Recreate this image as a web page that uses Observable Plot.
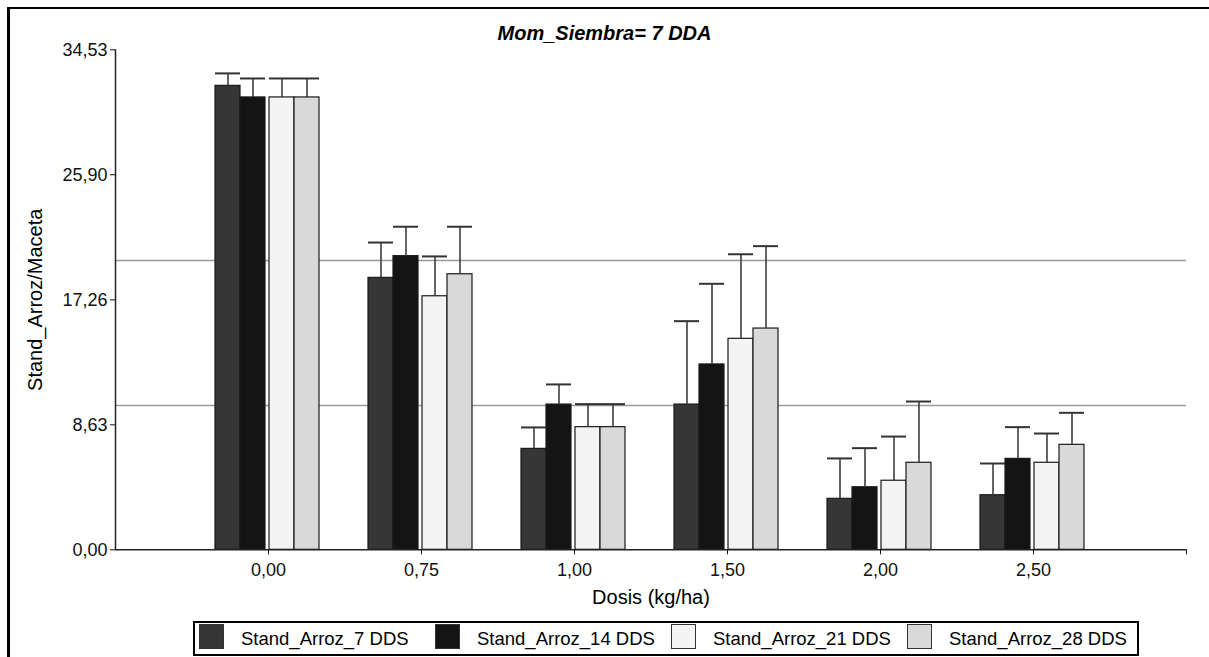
<!DOCTYPE html>
<html>
<head>
<meta charset="utf-8">
<script src="https://cdn.jsdelivr.net/npm/d3@7"></script>
<script src="https://cdn.jsdelivr.net/npm/@observablehq/plot@0.6"></script>
<style>
  html, body { margin: 0; padding: 0; overflow: hidden; background: #fff; font-family: "Liberation Sans", Arial, sans-serif; }
  #chart { position: relative; width: 1209px; height: 657px; background: #fff; }
  .edge { position: absolute; background: #000; z-index: 5; }
  #edgeLeft { left: 6.5px; top: 6.5px; width: 3px; height: 650px; }
  #edgeTop { left: 6.5px; top: 6.5px; width: 1202px; height: 2.5px; }
  #title { position: absolute; left: 0; top: 23px; width: 1209px; text-align: center; z-index: 2;
           font-size: 20px; line-height: 20px; font-weight: bold; font-style: italic; color: #000; }
  #plot { position: absolute; left: 0; top: 30px; }
  #legend { position: absolute; left: 193px; top: 621px; width: 942px; height: 31px;
            border: 2px solid #000; background: #fff; }
  .item { position: absolute; top: 0; height: 31px; }
  .sw { position: absolute; left: 0; top: 1px; width: 25px; height: 25px;
        box-sizing: border-box; border: 1px solid #333; }
  .lab { position: absolute; left: 42px; top: 7px; font-size: 18.5px; line-height: 18px;
         white-space: nowrap; color: #000; }
</style>
</head>
<body>
<div id="chart">
  <div id="plot"></div>
  <div id="title">Mom_Siembra= 7 DDA</div>
  <div id="legend"></div>
  <div class="edge" id="edgeLeft"></div>
  <div class="edge" id="edgeTop"></div>
</div>
<script>
// Doses (x categories) and the four stand-count series
const dosis = ["0,00", "0,75", "1,00", "1,50", "2,00", "2,50"];
const series = ["Stand_Arroz_7 DDS", "Stand_Arroz_14 DDS", "Stand_Arroz_21 DDS", "Stand_Arroz_28 DDS"];

// Mean plants per pot, by dose
const media7  = [32.04, 18.78, 6.97, 10.03, 3.52, 3.77];
const media14 = [31.24, 20.28, 10.03, 12.80, 4.32, 6.28];
const media21 = [31.24, 17.51, 8.47, 14.57, 4.77, 6.01];
const media28 = [31.24, 19.03, 8.47, 15.28, 6.01, 7.25];

// Error bar length (upper whisker), by dose
const ee7  = [0.86, 2.44, 1.48, 5.76, 2.79, 2.19];
const ee14 = [1.31, 2.03, 1.39, 5.57, 2.70, 2.19];
const ee21 = [1.31, 2.75, 1.59, 5.84, 3.05, 2.02];
const ee28 = [1.31, 3.28, 1.59, 5.69, 4.23, 2.21];

// Horizontal reference lines and y-axis ticks
const refLines = [19.98, 9.97];
const yTicks = [0, 8.63, 17.26, 25.90, 34.53];

const fills = ["#363636", "#141414", "#f4f4f4", "#d9d9d9"];

const medias = [media7, media14, media21, media28];
const errores = [ee7, ee14, ee21, ee28];
const rows = [];
series.forEach((s, j) => dosis.forEach((d, i) => rows.push({
  dosis: d, serie: s, i, j, media: medias[j][i], sup: medias[j][i] + errores[j][i]
})));

const W = 1209, H = 585, ml = 115, mr = 23, mt = 19.3, mb = 65.7;
const unit = (W - ml - mr) / 7;           // pixels per dose slot
const barW = 25 / unit;                    // bar width in x units
const offs = [-53, -28, 1, 26].map(p => p / unit);
const left = d => d.i + offs[d.j];
const comma = v => v.toFixed(2).replace(".", ",");

const chart = Plot.plot({
  width: W, height: H,
  marginLeft: ml, marginRight: mr, marginTop: mt, marginBottom: mb,
  style: { fontFamily: '"Liberation Sans", Arial, sans-serif', color: "#111", background: "transparent" },
  x: { domain: [-1, 6] },
  y: { domain: [0, 34.53] },
  color: { domain: series, range: fills },
  marks: [
    Plot.ruleY(refLines, { stroke: "#9a9a9a", strokeWidth: 1.5 }),
    Plot.rect(rows, { x1: left, x2: d => left(d) + barW, y1: 0, y2: "media",
                      fill: "serie", stroke: "#1a1a1a", strokeWidth: 1.2 }),
    Plot.ruleX(rows, { x: d => left(d) + barW / 2, y1: "media", y2: "sup", stroke: "#333", strokeWidth: 1.5 }),
    Plot.ruleY(rows, { y: "sup", x1: left, x2: d => left(d) + barW, stroke: "#333", strokeWidth: 2 }),
    Plot.ruleX([-1], { stroke: "#222", strokeWidth: 1.5 }),
    Plot.ruleY([0], { stroke: "#222", strokeWidth: 1.5 }),
    Plot.axisY({ ticks: yTicks, tickFormat: comma, tickSize: 5, tickPadding: 3, fontSize: 18, label: null }),
    Plot.axisX({ ticks: d3.range(0, 7), tickFormat: i => dosis[i] ?? "", tickSize: 5, tickPadding: 8, fontSize: 18, label: null }),
    Plot.text(["Dosis (kg/ha)"], { text: d => d, frameAnchor: "bottom", dy: 53.7, lineAnchor: "bottom", fontSize: 20, fill: "#000" }),
    Plot.text(["Stand_Arroz/Maceta"], { text: d => d, frameAnchor: "left", rotate: -90, dx: -80,
                                        lineAnchor: "middle", textAnchor: "middle", fontSize: 20, fill: "#000" })
  ]
});
document.getElementById("plot").appendChild(chart);

// Legend: one swatch and label per series
const legend = d3.select("#legend");
series.forEach((s, j) => {
  const it = legend.append("div").attr("class", "item").style("left", (4 + 236 * j) + "px");
  it.append("div").attr("class", "sw").style("background", fills[j]);
  it.append("div").attr("class", "lab").text(s);
});
</script>
</body>
</html>
